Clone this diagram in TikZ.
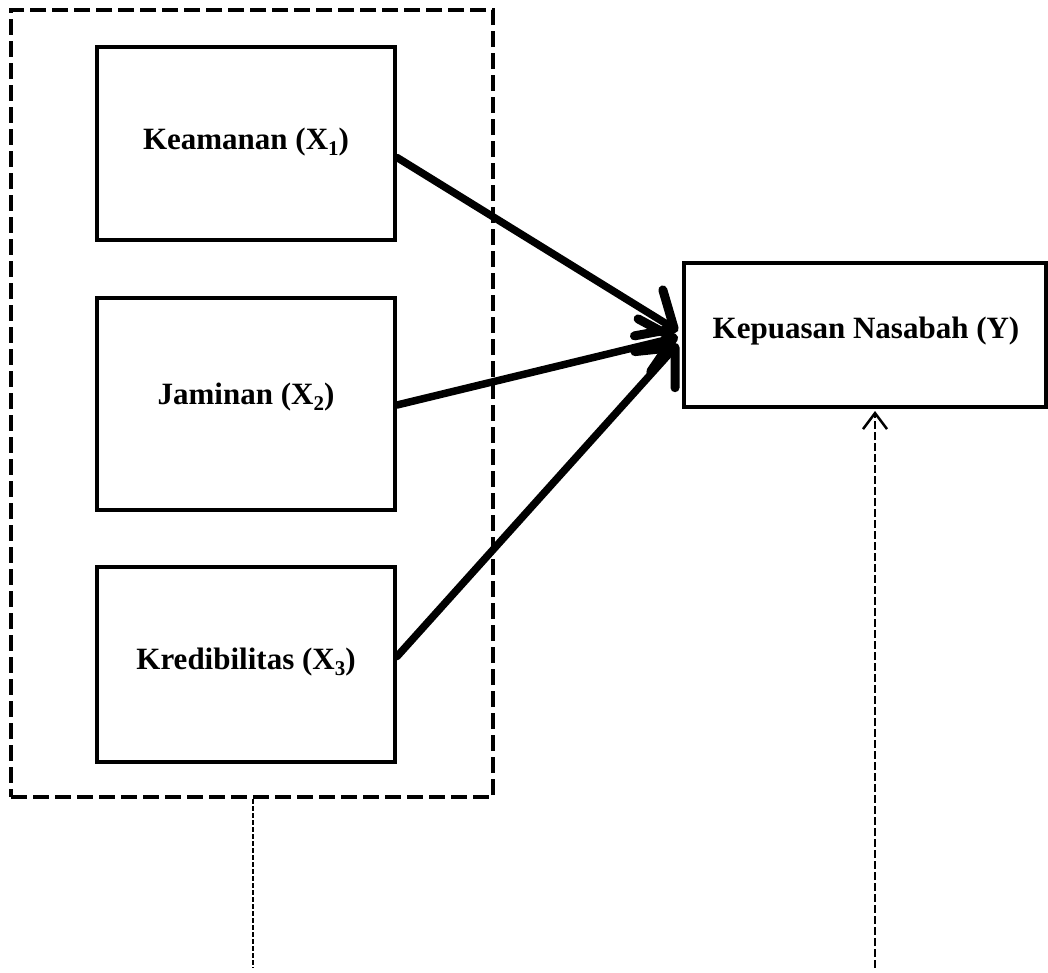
\documentclass[tikz,border=0pt]{standalone}
\usepackage{fontspec}
\setmainfont{Liberation Serif}
\usetikzlibrary{arrows.meta}
\tikzset{
  varbox/.style={draw=black, line width=4pt, inner sep=0pt, align=center,
    font=\fontsize{31}{37}\selectfont\bfseries},
  labeltext/.style={font=\fontsize{31}{37}\selectfont\bfseries},
  groupbox/.style={draw=black, line width=4pt, dash pattern=on 16pt off 6pt, inner sep=0pt},
  mainarrow/.style={line width=7.5pt, line cap=round,
    -{Straight Barb[length=30pt, width=54pt, line width=9pt, round]}},
  dotline/.style={line width=2pt, dash pattern=on 5pt off 2pt},
  dashline/.style={line width=2.5pt, dash pattern=on 8pt off 3pt,
    -{Straight Barb[length=16pt, width=24pt, line width=2.5pt]}},
}
\newcommand{\sbx}[1]{\raisebox{-6pt}{\fontsize{21}{21}\selectfont #1}}
\begin{document}
\begin{tikzpicture}[x=1pt, y=-1pt]
\useasboundingbox (0,0) rectangle (1048,972);
\node[groupbox, minimum width=482pt, minimum height=787pt] (grp) at (252,403.5) {};
\node[varbox, minimum width=298pt, minimum height=193pt] (x1) at (246,143.5) {};
\node[varbox, minimum width=298pt, minimum height=212pt] (x2) at (246,404) {};
\node[varbox, minimum width=298pt, minimum height=195pt] (x3) at (246,664.5) {};
\node[varbox, minimum width=362pt, minimum height=144pt] (y) at (865,335) {};
\node[labeltext] (t1) at (246,142) {Keamanan (X\sbx{1})};
\node[labeltext] (t2) at (246,397) {Jaminan (X\sbx{2})};
\node[labeltext] (t3) at (246,662) {Kredibilitas (X\sbx{3})};
\node[labeltext] (ty) at (866,331) {Kepuasan Nasabah (Y)};
\coordinate (b1) at (253,968);
\coordinate (b2) at (875,968);
\draw[mainarrow] ([yshift=-14pt]x1.east) -- ([yshift=4pt,xshift=-4pt]y.west);
\draw[mainarrow] ([yshift=-1pt]x2.east) -- ([yshift=-2pt,xshift=-4pt]y.west);
\draw[mainarrow] ([yshift=8pt]x3.east) -- ([yshift=-9pt,xshift=-4pt]y.west);
\draw[dotline] (grp.south -| b1) -- (b1);
\draw[dashline] (b2) -- ([yshift=-2pt]y.south -| b2);
\end{tikzpicture}
\end{document}
